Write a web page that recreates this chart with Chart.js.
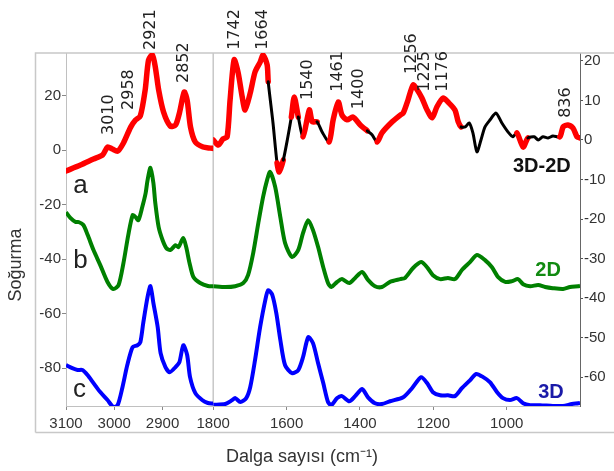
<!DOCTYPE html>
<html>
<head>
<meta charset="utf-8">
<script src="https://cdn.jsdelivr.net/npm/chart.js@4.4.0/dist/chart.umd.min.js"></script>
<style>
  body { margin: 0; background: #fff; }
</style>
</head>
<body>
<canvas id="myChart" width="614" height="471"></canvas>
<script>
// [wavenumber (cm-1), absorbance]
var diffLeft = [[3100,-7.7],[3070,-5.5],[3043,-3.3],[3024,-1.8],[3014,1.1],[3004,0.4],[2993,-0.4],[2981,2.6],[2966,8.4],[2956,11.0],[2946,12.5],[2936,22.0],[2929,33.0],[2921,34.9],[2915,30.5],[2908,22.0],[2898,14.0],[2884,8.8],[2873,9.2],[2865,13.6],[2855,21.3],[2849,18.3],[2842,8.4],[2832,2.9],[2816,1.1],[2801,0.7],[2795,0.6]];
var diffRight = [[1800,0],[1786,-1.3],[1773,0.3],[1762,0.8],[1754,10.1],[1743,20.3],[1732,17.0],[1721,10.9],[1713,7.6],[1699,11.9],[1686,17.2],[1672,19.7],[1664,21.5],[1653,19.0],[1650,14.7],[1637,4.3],[1626,-5.8],[1620,-8.1],[1609,-5.1],[1598,0],[1587,5.8],[1579,10.9],[1568,5.8],[1555,0.8],[1538,7.6],[1530,4.6],[1517,4.6],[1503,2.0],[1484,-0.5],[1473,5.1],[1459,9.6],[1449,6.3],[1435,5.1],[1419,5.8],[1399,3.8],[1380,2.3],[1367,1.3],[1353,-0.5],[1340,1.8],[1312,4.6],[1290,6.3],[1282,6.8],[1269,10.1],[1255,13.9],[1244,12.7],[1231,10.6],[1217,7.6],[1203,5.6],[1190,8.4],[1173,10.6],[1160,9.6],[1141,7.6],[1132,4.6],[1124,3.3],[1113,3.3],[1102,4.3],[1092,1.8],[1081,-3.0],[1070,0],[1059,3.3],[1045,5.1],[1029,6.8],[1013,4.3],[996,2.0],[983,0.8],[972,1.8],[955,-1.8],[942,0.5],[925,0.8],[914,0],[901,0.8],[887,0.5],[874,1.0],[855,0.8],[846,3.3],[833,3.8],[819,3.0],[808,0.8],[800,0.5]];
var film2DLeft = [[3100,-22.8],[3091,-24.9],[3080,-26.4],[3074,-26.4],[3064,-27.5],[3055,-31.2],[3043,-36.7],[3029,-42.2],[3014,-48.4],[3002,-51.0],[2991,-49.5],[2981,-41.5],[2971,-31.2],[2962,-23.9],[2956,-24.6],[2950,-25.7],[2942,-20.9],[2935,-15.8],[2931,-11.0],[2925,-6.5],[2919,-12.0],[2915,-19.4],[2908,-28.3],[2900,-33.0],[2892,-36.0],[2884,-36.7],[2873,-34.9],[2867,-35.6],[2857,-32.3],[2851,-35.6],[2844,-41.5],[2836,-46.6],[2822,-48.8],[2806,-49.9],[2795,-50.0]];
var film2DRight = [[1800,-37.0],[1767,-37.2],[1740,-37.0],[1718,-36.2],[1705,-34.2],[1691,-28.6],[1677,-21.0],[1664,-14.4],[1653,-10.1],[1645,-8.1],[1631,-11.9],[1617,-19.5],[1604,-26.1],[1585,-29.6],[1568,-27.8],[1555,-23.5],[1541,-20.3],[1528,-22.8],[1514,-27.1],[1500,-32.2],[1487,-36.2],[1478,-37.2],[1462,-35.9],[1449,-35.2],[1429,-36.2],[1413,-34.9],[1394,-33.4],[1378,-35.4],[1359,-37.0],[1340,-37.2],[1318,-35.9],[1290,-35.2],[1277,-34.9],[1255,-32.4],[1233,-30.9],[1217,-32.2],[1201,-34.2],[1181,-35.2],[1160,-34.9],[1141,-35.2],[1122,-32.9],[1100,-30.9],[1081,-29.1],[1059,-30.4],[1040,-32.2],[1023,-34.7],[1004,-35.9],[985,-35.7],[969,-35.2],[955,-36.5],[936,-37.0],[914,-36.7],[895,-37.2],[874,-37.5],[846,-37.7],[827,-37.2],[805,-37.0],[800,-36.9]];
var film3DLeft = [[3100,-78.9],[3087,-80.0],[3076,-80.7],[3066,-80.7],[3055,-82.6],[3043,-85.5],[3029,-88.8],[3014,-91.7],[3002,-94.3],[2993,-93.6],[2983,-87.0],[2973,-78.9],[2962,-72.3],[2952,-71.6],[2946,-70.5],[2940,-63.5],[2931,-53.9],[2925,-49.9],[2919,-56.1],[2910,-65.0],[2904,-74.5],[2894,-79.6],[2885,-81.5],[2873,-79.6],[2865,-77.8],[2857,-71.6],[2849,-75.2],[2843,-83.3],[2832,-89.2],[2818,-91.7],[2806,-92.8],[2795,-93.0]];
var film3DRight = [[1800,-67.0],[1767,-66.8],[1748,-65.8],[1740,-65.3],[1726,-66.3],[1710,-65.3],[1699,-62.5],[1686,-55.7],[1672,-47.3],[1658,-40.5],[1650,-38.0],[1639,-39.2],[1628,-43.8],[1617,-50.6],[1604,-57.0],[1585,-59.0],[1568,-58.2],[1555,-54.9],[1541,-49.9],[1528,-51.4],[1514,-56.5],[1500,-61.5],[1487,-66.3],[1478,-67.1],[1462,-65.3],[1449,-64.8],[1429,-66.1],[1413,-64.8],[1394,-63.0],[1378,-65.1],[1359,-66.6],[1340,-66.8],[1318,-66.1],[1282,-65.1],[1258,-62.8],[1233,-60.0],[1217,-61.5],[1201,-63.8],[1181,-64.6],[1160,-64.6],[1141,-64.8],[1122,-62.8],[1100,-60.8],[1083,-59.2],[1064,-60.0],[1045,-61.3],[1026,-63.8],[1010,-65.3],[991,-65.8],[972,-65.3],[955,-66.6],[936,-67.1],[909,-67.1],[874,-67.3],[846,-67.3],[822,-66.8],[805,-66.6],[800,-66.5]];

// parts of the 3D-2D spectrum that are drawn red
var redRanges = [[3100,2795],[1796,1650],[1626,1606],[1590,1568],[1549,1518],[1490,1386],[1350,1127],[966,945],[858,800]];

var xTicksLeft = [3100, 3000, 2900];
var xTicksRight = [1800, 1600, 1400, 1200, 1000];
var yTicksLeft = [20, 0, -20, -40, -60, -80];
var yTicksRight = [20, 10, 0, -10, -20, -30, -40, -50, -60];

// peak label, wavenumber, value at the foot of the label
var peaksLeft = [['3010',3012,5.5],['2958',2969,14.7],['2921',2925,36.7],['2852',2855,24.6]];
var peaksRight = [['1742',1740,22.8],['1664',1664,22.8],['1540',1541,10.1],['1461',1459,12.2],['1400',1402,7.8],['1256',1258,16.7],['1225',1222,12.2],['1176',1173,12.2],['836',838,5.6]];

function pts(arr) {
    return arr.map(function (p) { return {x: p[0], y: p[1]}; });
}
function isRed(wn) {
    return redRanges.some(function (r) { return wn <= r[0] && wn >= r[1]; });
}
function mid(ctx) {
    return (ctx.p0.parsed.x + ctx.p1.parsed.x) / 2;
}

var diffStyle = {
    borderColor: '#ff0000',
    borderWidth: 5.5,
    borderCapStyle: 'round',
    segment: {
        borderColor: function (ctx) { return isRed(mid(ctx)) ? '#ff0000' : '#000000'; },
        borderWidth: function (ctx) { return isRed(mid(ctx)) ? 5.5 : 3; }
    }
};

var decor = {
    id: 'decor',
    beforeDatasetsDraw: function (chart) {
        var c = chart.ctx, a = chart.chartArea, xr = chart.scales.xR;
        c.save();
        c.strokeStyle = '#c8c8c8';
        c.lineWidth = 1.5;
        c.beginPath();
        c.moveTo(xr.left, a.top);
        c.lineTo(xr.left, a.bottom);
        c.moveTo(35.5, 432.5);
        c.lineTo(35.5, a.top);
        c.lineTo(614, a.top);
        c.moveTo(35.5, 432.5);
        c.lineTo(614, 432.5);
        c.stroke();
        c.restore();
    },
    afterDraw: function (chart) {
        var c = chart.ctx, s = chart.scales;
        c.save();
        c.fillStyle = '#222';
        c.font = '16px "DejaVu Sans"';
        c.textAlign = 'left';
        c.textBaseline = 'middle';
        function peak(p, xs, ys) {
            c.save();
            c.translate(xs.getPixelForValue(p[1]), ys.getPixelForValue(p[2]));
            c.rotate(-Math.PI / 2);
            c.fillText(p[0], 0, 0);
            c.restore();
        }
        peaksLeft.forEach(function (p) { peak(p, s.xL, s.y); });
        peaksRight.forEach(function (p) { peak(p, s.xR, s.y2); });

        c.textAlign = 'center';
        c.textBaseline = 'alphabetic';
        c.font = '26px "Liberation Sans"';
        c.fillText('a', s.xL.getPixelForValue(3070), s.y.getPixelForValue(-15.8));
        c.fillText('b', s.xL.getPixelForValue(3070), s.y.getPixelForValue(-43.3));
        c.fillText('c', s.xL.getPixelForValue(3072), s.y.getPixelForValue(-90.6));

        c.textBaseline = 'middle';
        c.font = 'bold 20px "Liberation Sans"';
        c.fillStyle = '#111';
        c.fillText('3D-2D', s.xR.getPixelForValue(904), s.y2.getPixelForValue(-6.8));
        c.fillStyle = '#118a11';
        c.fillText('2D', s.xR.getPixelForValue(887), s.y2.getPixelForValue(-32.9));
        c.fillStyle = '#1a1aa8';
        c.fillText('3D', s.xR.getPixelForValue(879), s.y2.getPixelForValue(-64));

        c.fillStyle = '#333';
        c.font = '18px "Liberation Sans"';
        c.textBaseline = 'alphabetic';
        c.fillText('Dalga sayısı (cm⁻¹)', 302, 462);
        c.translate(16, 265);
        c.rotate(-Math.PI / 2);
        c.textBaseline = 'middle';
        c.fillText('Soğurma', 0, 0);
        c.restore();
    }
};

var tickFont = { family: '"Liberation Sans"', size: 15 };

function fixedTicks(list) {
    return function (axis) { axis.ticks = list.map(function (v) { return {value: v}; }); };
}
function plain(v) {
    return String(v);
}

var ctx = document.getElementById('myChart').getContext('2d');
var myChart = new Chart(ctx, {
    type: 'line',
    data: {
        datasets: [
            Object.assign({ label: '3D-2D', data: pts(diffLeft), xAxisID: 'xL', yAxisID: 'y' }, diffStyle),
            Object.assign({ label: '3D-2D', data: pts(diffRight), xAxisID: 'xR', yAxisID: 'y2' }, diffStyle),
            { label: '2D', data: pts(film2DLeft), xAxisID: 'xL', yAxisID: 'y', borderColor: '#008000', borderWidth: 4 },
            { label: '2D', data: pts(film2DRight), xAxisID: 'xR', yAxisID: 'y2', borderColor: '#008000', borderWidth: 4 },
            { label: '3D', data: pts(film3DLeft), xAxisID: 'xL', yAxisID: 'y', borderColor: '#0000ff', borderWidth: 4 },
            { label: '3D', data: pts(film3DRight), xAxisID: 'xR', yAxisID: 'y2', borderColor: '#0000ff', borderWidth: 4 }
        ]
    },
    options: {
        responsive: false,
        animation: false,
        devicePixelRatio: 1,
        layout: { padding: { top: 53 } },
        elements: {
            point: { radius: 0 },
            line: { tension: 0.25, borderJoinStyle: 'round' }
        },
        plugins: {
            legend: { display: false },
            tooltip: { enabled: false }
        },
        scales: {
            xL: {
                type: 'linear', position: 'bottom', stack: 'wn', stackWeight: 147.3,
                min: 2795, max: 3100, reverse: true,
                afterBuildTicks: fixedTicks(xTicksLeft),
                afterFit: function (s) { s.height = 65; },
                ticks: { font: tickFont, color: '#333', padding: 5, maxRotation: 0, autoSkip: false, callback: plain },
                grid: { drawOnChartArea: false, tickLength: 4, color: '#888' },
                border: { color: '#c0c0c0' }
            },
            xR: {
                type: 'linear', position: 'bottom', stack: 'wn', stackWeight: 367,
                min: 800, max: 1800, reverse: true,
                afterBuildTicks: fixedTicks(xTicksRight),
                afterFit: function (s) { s.height = 65; },
                ticks: { font: tickFont, color: '#333', padding: 5, maxRotation: 0, autoSkip: false, callback: plain },
                grid: { drawOnChartArea: false, tickLength: 4, color: '#888' },
                border: { color: '#c0c0c0' }
            },
            y: {
                position: 'left', min: -93.9, max: 35.6,
                afterBuildTicks: fixedTicks(yTicksLeft),
                afterFit: function (s) { s.width = 66; },
                ticks: { font: tickFont, color: '#333', padding: 1, autoSkip: false, callback: plain },
                grid: { drawOnChartArea: false, tickLength: 4, color: '#888' },
                border: { color: '#c0c0c0' }
            },
            y2: {
                position: 'right', min: -67.3, max: 22,
                afterBuildTicks: fixedTicks(yTicksRight),
                afterFit: function (s) { s.width = 34; },
                ticks: { font: tickFont, color: '#333', padding: 1, autoSkip: false, callback: plain },
                grid: { drawOnChartArea: false, tickLength: 3, color: '#555' },
                border: { color: '#666' }
            }
        }
    },
    plugins: [decor]
});
</script>
</body>
</html>
